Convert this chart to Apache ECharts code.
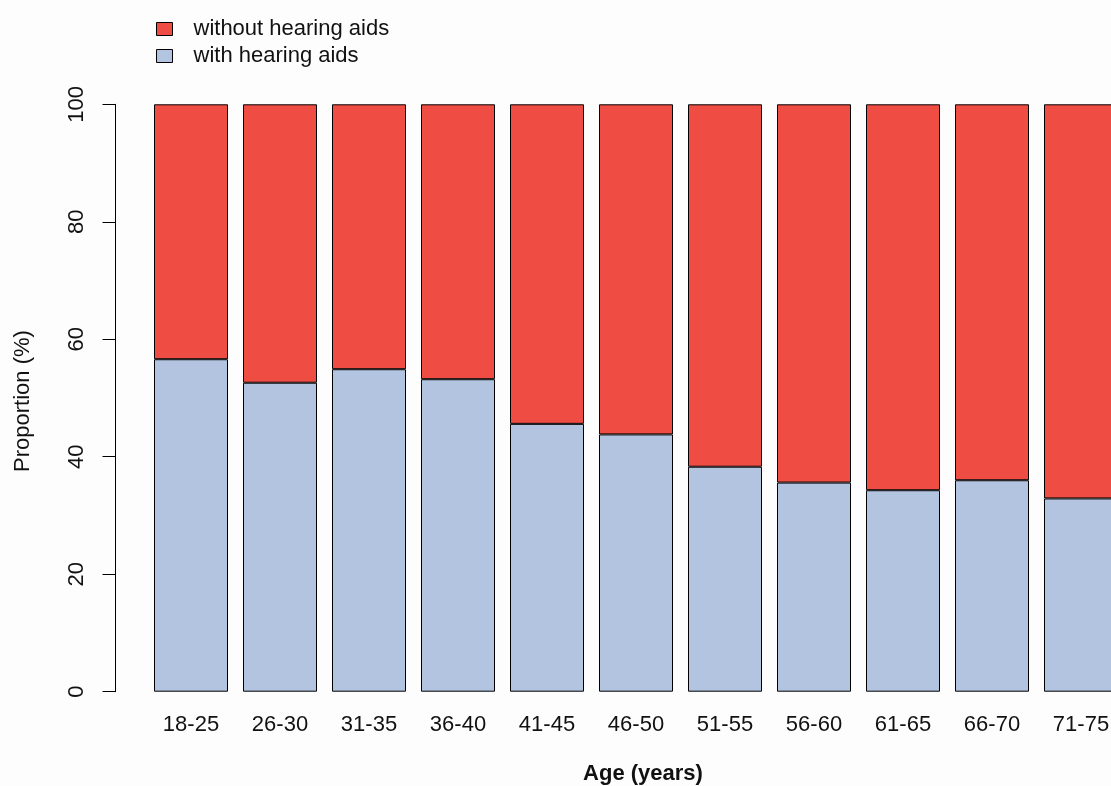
<!DOCTYPE html>
<html>
<head>
<meta charset="utf-8">
<script src="https://cdn.jsdelivr.net/npm/echarts@6/dist/echarts.min.js"></script>
<style>
html,body{margin:0;padding:0;background:#fdfdfd;overflow:hidden;}
#main{width:1126px;height:786px;}
</style>
</head>
<body>
<div id="main"></div>
<script>
var categories = ['18-25','26-30','31-35','36-40','41-45','46-50','51-55','56-60','61-65','66-70','71-75'];
var withAids = [56.6, 52.6, 54.9, 53.2, 45.6, 43.8, 38.3, 35.6, 34.3, 36.0, 32.9];
var withoutAids = [43.4, 47.4, 45.1, 46.8, 54.4, 56.2, 61.7, 64.4, 65.7, 64.0, 67.1];
var yTicks = [0, 20, 40, 60, 80, 100];

var FONT = 'Liberation Sans, Arial, Helvetica, sans-serif';
var chart = echarts.init(document.getElementById('main'), null, {renderer: 'canvas'});
chart.setOption({
  backgroundColor: '#fdfdfd',
  animation: false,
  textStyle: {fontFamily: FONT},
  legend: {
    orient: 'vertical',
    left: 156,
    top: 18,
    padding: 0,
    itemWidth: 16,
    itemHeight: 13,
    itemGap: 5,
    icon: 'rect',
    data: ['without hearing aids', 'with hearing aids'],
    itemStyle: {borderColor: '#000', borderWidth: 1},
    textStyle: {fontSize: 22, color: '#111', fontFamily: FONT, padding: [0, 0, 0, 16]}
  },
  grid: {left: 146.5, right: 0.5, top: 104.3, bottom: 94.3, containLabel: false},
  xAxis: {
    type: 'category',
    data: categories,
    axisLine: {show: false},
    axisTick: {show: false},
    axisLabel: {fontSize: 22, color: '#111', margin: 22, fontFamily: FONT, interval: 0}
  },
  yAxis: {
    type: 'value',
    min: yTicks[0],
    max: yTicks[yTicks.length - 1],
    interval: yTicks[1] - yTicks[0],
    offset: 31,
    axisLine: {show: true, lineStyle: {color: '#000', width: 1}},
    axisTick: {show: true, length: 13, lineStyle: {color: '#000', width: 1}},
    splitLine: {show: false},
    axisLabel: {fontSize: 22, color: '#111', rotate: 90, margin: 28, fontFamily: FONT}
  },
  graphic: [
    {type: 'text', x: 23, y: 401, rotation: Math.PI / 2,
     style: {text: 'Proportion (%)', fontSize: 22, fill: '#111', fontFamily: FONT, align: 'center', verticalAlign: 'middle'}},
    {type: 'text', x: 643, y: 774,
     style: {text: 'Age (years)', fontSize: 22, fontWeight: 'bold', fill: '#111', fontFamily: FONT, align: 'center', verticalAlign: 'middle'}}
  ],
  series: [
    {
      name: 'with hearing aids', type: 'bar', stack: 'total', barWidth: 74,
      data: withAids,
      itemStyle: {color: '#b3c4e0', borderColor: '#000', borderWidth: 1}
    },
    {
      name: 'without hearing aids', type: 'bar', stack: 'total', barWidth: 74,
      data: withoutAids,
      itemStyle: {color: '#ef4c44', borderColor: '#000', borderWidth: 1}
    }
  ]
});
</script>
</body>
</html>
